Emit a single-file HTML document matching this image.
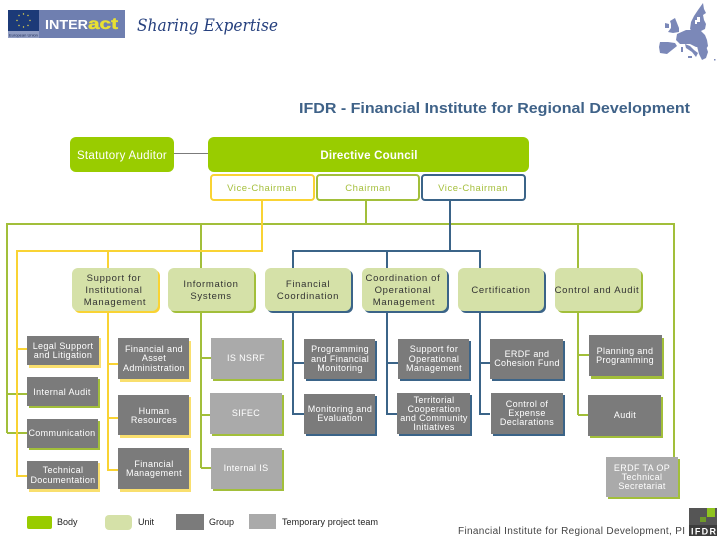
<!DOCTYPE html>
<html><head><meta charset="utf-8"><style>
html,body{margin:0;padding:0;background:#fff;width:720px;height:540px;overflow:hidden}
svg{display:block}
text{font-family:"Liberation Sans",sans-serif}
.l{font-size:9px;letter-spacing:.35px;text-anchor:middle;fill:#fff}
.u{font-size:9.5px;letter-spacing:.7px;text-anchor:middle;fill:#333}
.v{font-size:9.5px;letter-spacing:.55px;text-anchor:middle;fill:#a5bf3c}
.k{font-size:9px;fill:#222}
.lg{fill:none;stroke:#a2bf3a;stroke-width:2}
.ly{fill:none;stroke:#f9d334;stroke-width:2}
.lb{fill:none;stroke:#3b6488;stroke-width:2}
.g{fill:#7b7b7b}.t{fill:#aaaaaa}.un{fill:#d5e1a8}
.sg{fill:#a2bf3a}.sy{fill:#f9df6e}.sb{fill:#3b6488}
</style></head><body>
<svg width="720" height="540" viewBox="0 0 720 540" xmlns="http://www.w3.org/2000/svg">
<!-- header logo -->
<rect x="8" y="10" width="117" height="28" fill="#6f7fb0"/>
<rect x="8" y="10" width="31" height="21" fill="#1c3a78"/>
<rect x="8" y="31" width="31" height="7" fill="#8f9cc2"/>
<g fill="#e8d84a"><circle cx="23.500" cy="14" r=".7"/><circle cx="28" cy="15.500" r=".7"/><circle cx="30" cy="20.500" r=".7"/><circle cx="28" cy="25.500" r=".7"/><circle cx="23.500" cy="27" r=".7"/><circle cx="19" cy="25.500" r=".7"/><circle cx="17" cy="20.500" r=".7"/><circle cx="19" cy="15.500" r=".7"/></g>
<text x="9" y="36.500" style="font-size:4px;fill:#1c2a55">European Union</text>
<text x="45" y="29" style="font-size:13px;font-weight:bold;fill:#fff" textLength="43" lengthAdjust="spacingAndGlyphs">INTER</text>
<text x="88" y="29" style="font-size:16px;font-weight:bold;fill:#e8e032;stroke:#e8e032;stroke-width:.4" textLength="30" lengthAdjust="spacingAndGlyphs">act</text>
<text x="137" y="31" style="font-family:'DejaVu Serif',serif;font-style:italic;font-size:16.500px;fill:#26407e" textLength="141" lengthAdjust="spacingAndGlyphs">Sharing Expertise</text>
<!-- map -->
<g fill="#7b88b8">
<path d="M703 3L704 9L706 13L703 15L704 20L706 24L705 29L701 31L692 31L690 29L691 22L694 16L698 10Z"/>
<path d="M675 18L677 23L679 28L679 32L673 33L668 32L671 28L671 24L670 21Z"/>
<path d="M665 23L669 24L669 28L665 28Z"/>
<path d="M677 34L686 30L700 30L705 35L707 40L708 46L706 49L701 47L696 47L690 44L680 44L676 40Z"/>
<path d="M660 42L668 42L675 43L677 46L672 50L667 54L660 53L659 47Z"/>
<path d="M685 44L690 46L694 50L698 53L696 57L692 52L686 48Z"/>
<path d="M697 46L706 46L708 52L706 58L702 60L699 54Z"/>
<rect x="688" y="56" width="4" height="2"/><rect x="681" y="47" width="2" height="5"/><rect x="714" y="59" width="1.500" height="1.500"/>
</g>
<g fill="#fff"><rect x="695" y="20" width="2" height="4"/><rect x="697" y="17" width="3" height="5"/></g>
<!-- title -->
<text x="299" y="113" style="font-size:15px;font-weight:bold;fill:#3f6288" textLength="391" lengthAdjust="spacingAndGlyphs">IFDR - Financial Institute for Regional Development</text>
<!-- top connectors -->
<path d="M174 153.500H208" fill="none" stroke="#7b7b7b" stroke-width="1"/>
<path class="lg" d="M7 433V224H674V457M7 394H27M7 433H27M201 224V268M201 312V468M201 358H211M201 415H211M201 468H211M366 201V224M578 224V268M578 312V415M578 355H589M578 415H589"/>
<path class="ly" d="M262 201V251H17V476H27M17 349H27M108 251V268M108 312V470H118M108 364H118M108 418H118"/>
<path class="lb" d="M450 201V251M293 268V251H480V268M387 251V268M293 312V414H304M293 363H304M387 312V414H398M387 363H398M480 312V414H490M480 363H490"/>
<!-- body -->
<rect x="70" y="137" width="104" height="35" rx="6" fill="#99cc00"/>
<rect x="208" y="137" width="321" height="35" rx="6" fill="#99cc00"/>
<text x="122" y="159" style="font-size:11.500px;text-anchor:middle;fill:#fff;letter-spacing:.3px">Statutory Auditor</text>
<text x="369" y="159" style="font-size:11.500px;font-weight:bold;text-anchor:middle;fill:#fff;letter-spacing:.2px">Directive Council</text>
<!-- chair boxes -->
<rect x="211" y="175" width="103" height="25" rx="3" fill="#fff" stroke="#f9d334" stroke-width="2"/>
<rect x="317" y="175" width="102" height="25" rx="3" fill="#fff" stroke="#a2bf3a" stroke-width="2"/>
<rect x="422" y="175" width="103" height="25" rx="3" fill="#fff" stroke="#3b6488" stroke-width="2"/>
<text class="v" x="262" y="191">Vice-Chairman</text>
<text class="v" x="368" y="191">Chairman</text>
<text class="v" x="473" y="191">Vice-Chairman</text>
<!-- units -->
<rect x="74" y="270" width="86" height="43" rx="6" fill="#f9d334"/><rect x="72" y="268" width="86" height="43" rx="6" class="un"/>
<rect x="170" y="270" width="86" height="43" rx="6" fill="#a2bf3a"/><rect x="168" y="268" width="86" height="43" rx="6" class="un"/>
<rect x="267" y="270" width="86" height="43" rx="6" fill="#3b6488"/><rect x="265" y="268" width="86" height="43" rx="6" class="un"/>
<rect x="364" y="270" width="85" height="43" rx="6" fill="#3b6488"/><rect x="362" y="268" width="85" height="43" rx="6" class="un"/>
<rect x="460" y="270" width="86" height="43" rx="6" fill="#3b6488"/><rect x="458" y="268" width="86" height="43" rx="6" class="un"/>
<rect x="557" y="270" width="86" height="43" rx="6" fill="#a2bf3a"/><rect x="555" y="268" width="86" height="43" rx="6" class="un"/>
<text class="u" x="114" y="281">Support for</text><text class="u" x="114" y="293">Institutional</text><text class="u" x="115" y="305">Management</text>
<text class="u" x="211" y="287">Information</text><text class="u" x="211" y="299">Systems</text>
<text class="u" x="308" y="287">Financial</text><text class="u" x="308" y="299">Coordination</text>
<text class="u" x="403" y="281">Coordination of</text><text class="u" x="403" y="293">Operational</text><text class="u" x="404" y="305">Management</text>
<text class="u" x="501" y="293">Certification</text>
<text class="u" x="597" y="293">Control and Audit</text>
<!-- shadows and groups -->
<rect x="29" y="338" width="72" height="30" class="sy"/><rect x="27" y="336" width="72" height="29" class="g"/>
<rect x="29" y="379" width="71" height="29" class="sg"/><rect x="27" y="377" width="71" height="29" class="g"/>
<rect x="29" y="421" width="71" height="29" class="sg"/><rect x="27" y="419" width="71" height="29" class="g"/>
<rect x="29" y="463" width="71" height="29" class="sy"/><rect x="27" y="461" width="71" height="28" class="g"/>
<rect x="120" y="341" width="71" height="41" class="sy"/><rect x="118" y="338" width="71" height="41" class="g"/>
<rect x="120" y="397" width="71" height="41" class="sy"/><rect x="118" y="395" width="71" height="40" class="g"/>
<rect x="120" y="450" width="71" height="42" class="sy"/><rect x="118" y="448" width="71" height="41" class="g"/>
<rect x="213" y="340" width="71" height="41" class="sg"/><rect x="211" y="338" width="71" height="41" class="t"/>
<rect x="212" y="395" width="72" height="41" class="sg"/><rect x="210" y="393" width="72" height="41" class="t"/>
<rect x="213" y="450" width="71" height="41" class="sg"/><rect x="211" y="448" width="71" height="41" class="t"/>
<rect x="306" y="341" width="71" height="40" class="sb"/><rect x="304" y="339" width="71" height="40" class="g"/>
<rect x="306" y="396" width="71" height="40" class="sb"/><rect x="304" y="394" width="71" height="40" class="g"/>
<rect x="400" y="341" width="71" height="40" class="sb"/><rect x="398" y="339" width="71" height="40" class="g"/>
<rect x="399" y="395" width="73" height="41" class="sb"/><rect x="397" y="393" width="73" height="41" class="g"/>
<rect x="492" y="341" width="73" height="40" class="sb"/><rect x="490" y="339" width="73" height="40" class="g"/>
<rect x="493" y="395" width="72" height="41" class="sb"/><rect x="491" y="393" width="72" height="41" class="g"/>
<rect x="591" y="338" width="73" height="41" fill="#a2bf3a"/><rect x="589" y="335" width="73" height="41" class="g"/>
<rect x="590" y="397" width="73" height="41" fill="#a2bf3a"/><rect x="588" y="395" width="73" height="41" class="g"/>
<rect x="608" y="459" width="72" height="40" class="sg"/><rect x="606" y="457" width="72" height="40" class="t"/>
<!-- group labels -->
<text class="l" x="63" y="349">Legal Support</text><text class="l" x="63" y="358">and Litigation</text>
<text class="l" x="62" y="395">Internal Audit</text>
<text class="l" x="62" y="436">Communication</text>
<text class="l" x="63" y="473">Technical</text><text class="l" x="63" y="483">Documentation</text>
<text class="l" x="154" y="352">Financial and</text><text class="l" x="154" y="361">Asset</text><text class="l" x="154" y="371">Administration</text>
<text class="l" x="154" y="414">Human</text><text class="l" x="154" y="423">Resources</text>
<text class="l" x="154" y="467">Financial</text><text class="l" x="154" y="476">Management</text>
<text class="l" x="246" y="361">IS NSRF</text>
<text class="l" x="246" y="416">SIFEC</text>
<text class="l" x="246" y="471">Internal IS</text>
<text class="l" x="340" y="352">Programming</text><text class="l" x="340" y="362">and Financial</text><text class="l" x="340" y="371">Monitoring</text>
<text class="l" x="340" y="412">Monitoring and</text><text class="l" x="340" y="421">Evaluation</text>
<text class="l" x="434" y="352">Support for</text><text class="l" x="434" y="362">Operational</text><text class="l" x="434" y="371">Management</text>
<text class="l" x="434" y="403">Territorial</text><text class="l" x="434" y="412">Cooperation</text><text class="l" x="434" y="421">and Community</text><text class="l" x="434" y="430">Initiatives</text>
<text class="l" x="527" y="357">ERDF and</text><text class="l" x="527" y="366">Cohesion Fund</text>
<text class="l" x="527" y="407">Control of</text><text class="l" x="527" y="416">Expense</text><text class="l" x="527" y="425">Declarations</text>
<text class="l" x="625" y="354">Planning and</text><text class="l" x="625" y="363">Programming</text>
<text class="l" x="625" y="418">Audit</text>
<text class="l" x="642" y="471">ERDF TA OP</text><text class="l" x="642" y="480">Technical</text><text class="l" x="642" y="489">Secretariat</text>
<!-- legend -->
<rect x="27" y="516" width="25" height="13" rx="2" fill="#99cc00"/>
<rect x="105" y="515" width="27" height="15" rx="4" class="un"/>
<rect x="176" y="514" width="28" height="16" class="g"/>
<rect x="249" y="514" width="27" height="15" class="t"/>
<text class="k" x="57" y="525">Body</text>
<text class="k" x="138" y="525">Unit</text>
<text class="k" x="209" y="525">Group</text>
<text class="k" x="282" y="525" textLength="96" lengthAdjust="spacing">Temporary project team</text>
<!-- footer -->
<text x="458" y="534" style="font-size:10px;fill:#444" textLength="227" lengthAdjust="spacing">Financial Institute for Regional Development, PI</text>
<rect x="689" y="508" width="28" height="28" fill="#555"/>
<rect x="689" y="525" width="28" height="11" fill="#3d3d3d"/>
<rect x="707" y="508" width="8" height="9" fill="#8fc31f"/>
<rect x="700" y="517" width="6" height="5" fill="#6f9a2a"/>
<text x="691" y="534.500" style="font-size:9px;font-weight:bold;fill:#fff" textLength="25" lengthAdjust="spacing">IFDR</text>
</svg>
</body></html>
